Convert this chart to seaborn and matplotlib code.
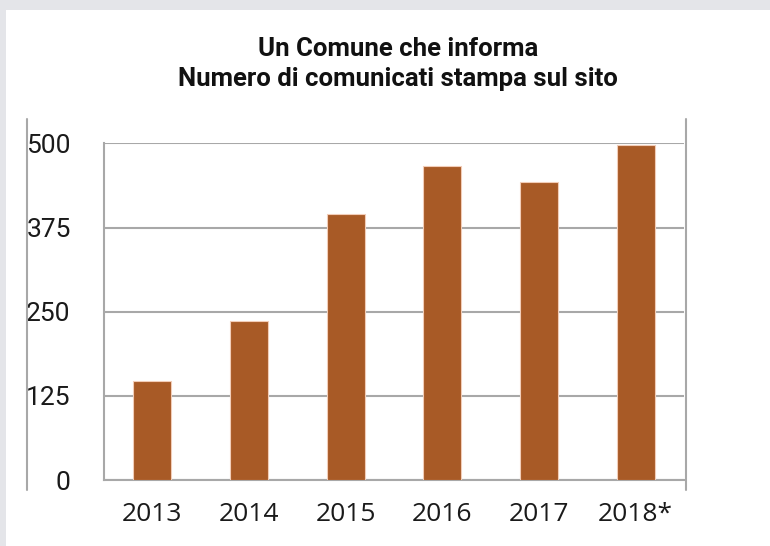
import matplotlib
matplotlib.use("Agg")
import matplotlib.pyplot as plt
from matplotlib.lines import Line2D
from matplotlib.patches import Rectangle
import seaborn as sns

# Data
years = ['2013', '2014', '2015', '2016', '2017', '2018*']
comunicati = [147, 236, 395, 466, 442, 497]
y_ticks = [0, 125, 250, 375, 500]

title = 'Un Comune che informa\nNumero di comunicati stampa sul sito'

bar_color = '#A85A26'
grid_color = '#A8A8A8'

sns.set_style('white')

fig = plt.figure(figsize=(7.7, 5.46), dpi=100)
fig.patch.set_facecolor('#E4E5E9')

# white panel
fig.add_artist(Rectangle((6 / 770, 0), 1, 1 - 10 / 546, transform=fig.transFigure,
                         facecolor='white', edgecolor='none', zorder=-10))

ax = fig.add_axes([104 / 770, 66 / 546, 580 / 770, 337 / 546])

sns.barplot(x=years, y=comunicati, color=bar_color, width=0.39, saturation=1,
            edgecolor='#F2CDB8', linewidth=0.8, ax=ax, zorder=3)

ax.set_ylim(0, 500.5)
ax.set_xlim(-0.5, 5.5)
ax.set_yticks(y_ticks)
ax.yaxis.grid(True, color=grid_color, linewidth=1.5, zorder=0)
ax.set_axisbelow(True)

for s in ['top', 'right']:
    ax.spines[s].set_visible(False)
for s in ['left', 'bottom']:
    ax.spines[s].set_color(grid_color)
    ax.spines[s].set_linewidth(1.5)

ax.set_xticks([i - 0.5 for i in range(7)], minor=True)
ax.tick_params(axis='x', which='major', length=0, pad=16)
ax.tick_params(axis='x', which='minor', length=5, width=1.2, color=grid_color, direction='out')
ax.tick_params(axis='y', length=4, width=1.5, color=grid_color, direction='out', pad=20)

for lab in ax.get_xticklabels():
    lab.set_fontfamily('Open Sans')
    lab.set_fontsize(19)
    lab.set_color('#1a1a1a')
for lab in ax.get_yticklabels():
    lab.set_fontfamily('Roboto')
    lab.set_fontsize(19)
    lab.set_color('#1a1a1a')

ax.set_xlabel('')
ax.set_ylabel('')

# chart frame lines on both sides
for xp in [27, 686]:
    fig.add_artist(Line2D([xp / 770, xp / 770], [1 - 119 / 546, 1 - 490 / 546],
                          transform=fig.transFigure, color=grid_color, linewidth=1.5))

fig.text(398 / 770, 1 - 64 / 546, title, ha='center', va='center', fontsize=18.5,
         fontweight='bold', fontfamily='Roboto', linespacing=1.35, color='#111111')

fig.savefig('out.png', dpi=100)
